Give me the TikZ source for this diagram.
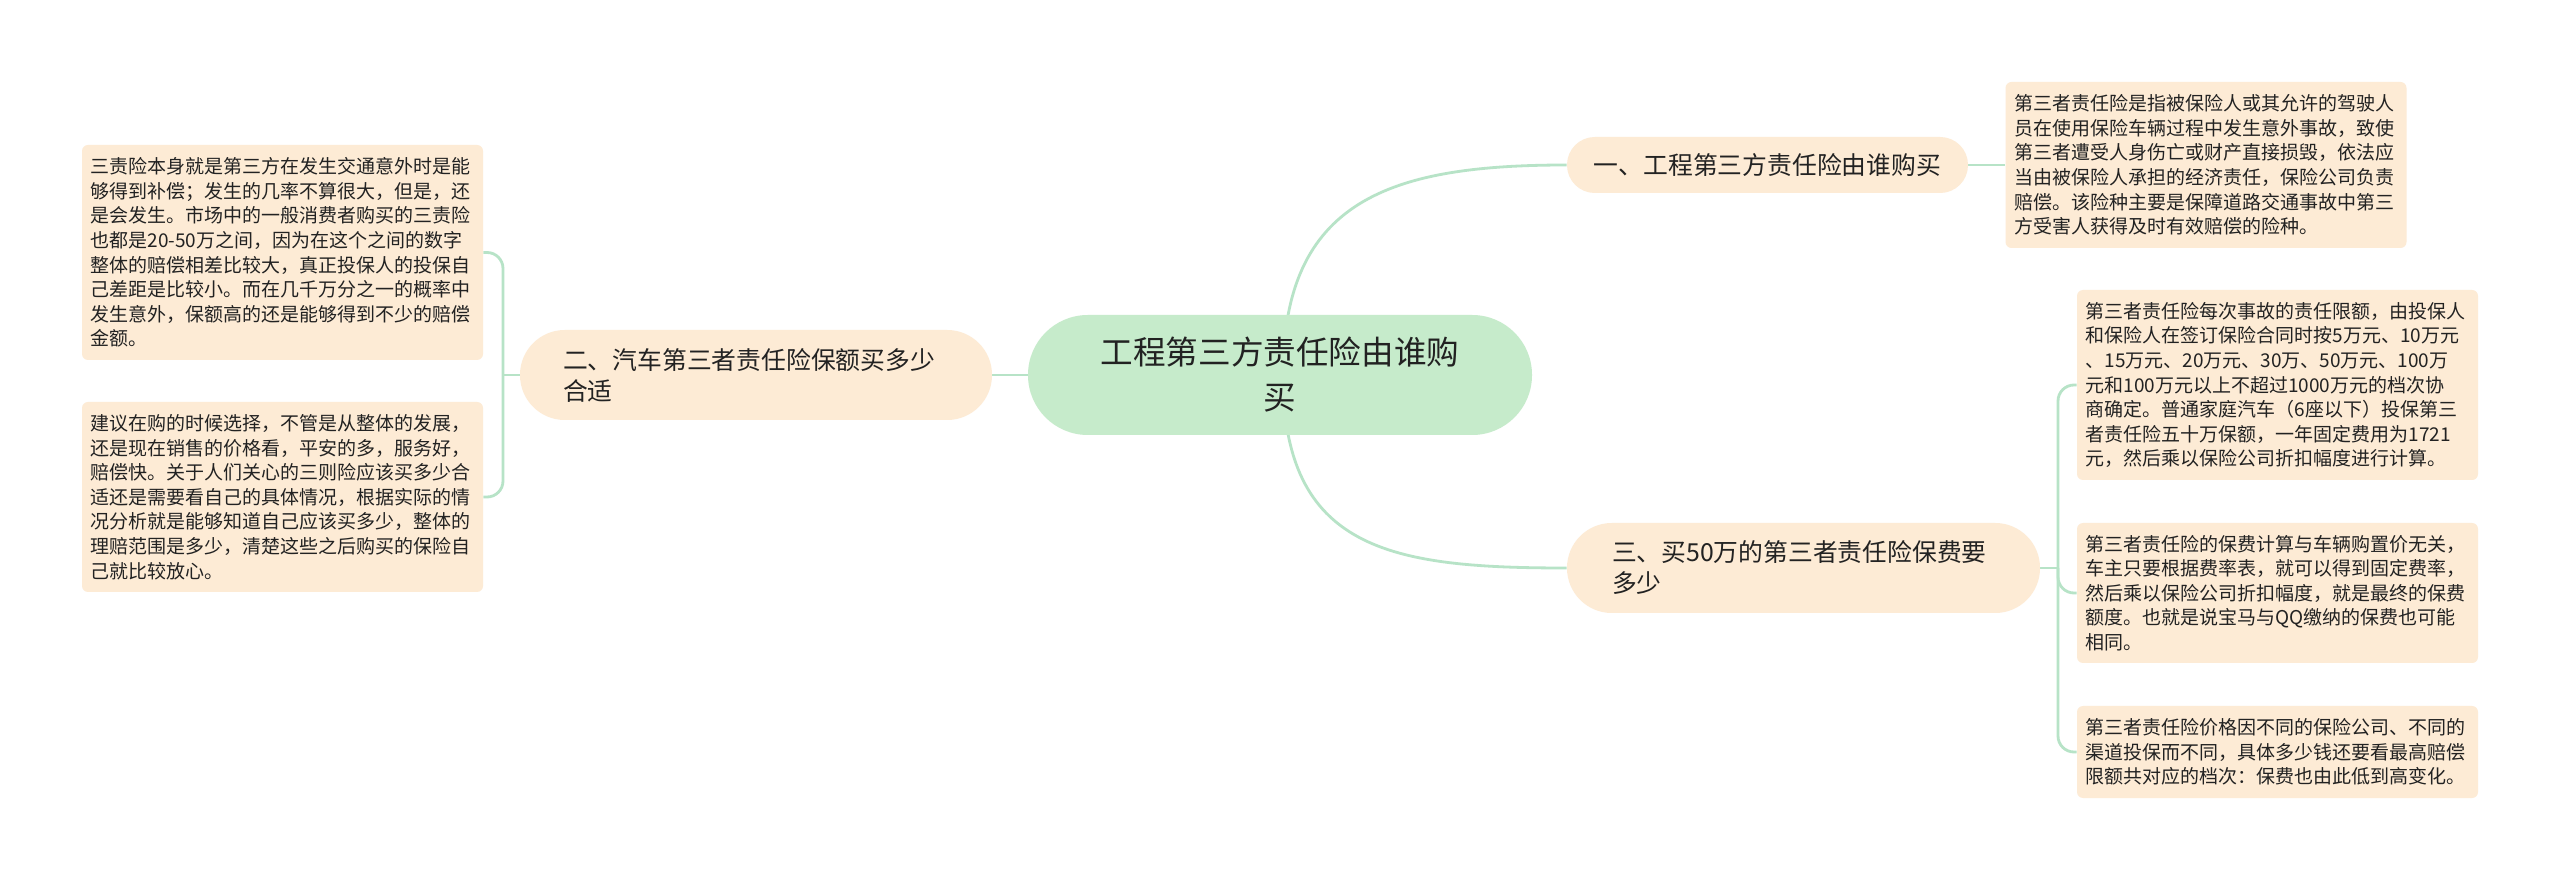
\documentclass[tikz,border=0pt]{standalone}
\usepackage{fontspec}
\setmainfont{Noto Sans CJK SC}
\usetikzlibrary{backgrounds}
\definecolor{linegreen}{RGB}{183,227,199}
\definecolor{centerfill}{RGB}{198,235,203}
\definecolor{peach}{RGB}{253,235,213}
\definecolor{txt}{RGB}{34,34,34}
\begin{document}
\begin{tikzpicture}[x=0.5pt,y=-0.5pt,
  leaf/.style={fill=peach, rounded corners=3pt, text=txt, align=left, text width=192pt,
    inner xsep=4.25pt, inner ysep=0pt, font=\fontsize{9.5}{12.3}\selectfont},
  branch/.style={fill=peach, text=txt, align=left, inner ysep=0pt,
    font=\fontsize{12.4}{15.5}\selectfont},
  link/.style={draw=linegreen, line width=1.4pt}]
\useasboundingbox (0,0) rectangle (2560,881);

% center
\node[fill=centerfill, rounded corners=29.9pt, minimum width=252pt, minimum height=60pt,
  align=center, text=txt, inner sep=0pt, font=\fontsize{16.3}{22.5}\selectfont]
  (c) at (1280,375) {工程第三方责任险由谁购\\买};

% branches
\node[branch, rounded corners=13.9pt, minimum width=200.5pt, minimum height=28pt, align=center]
  (b1) at (1767.5,165) {一、工程第三方责任险由谁购买};
\node[branch, rounded corners=22.4pt, text width=193pt, inner xsep=21.5pt, minimum height=45pt]
  (b2) at (756,375) {二、汽车第三者责任险保额买多少\\合适};
\node[branch, rounded corners=22.4pt, text width=191.5pt, inner xsep=22.5pt, minimum height=45pt]
  (b3) at (1803.5,568) {三、买50万的第三者责任险保费要\\多少};

% leaves
\node[leaf, minimum height=107.5pt] (l1) at (282.5,252.5) {三责险本身就是第三方在发生交通意外时是能\\够得到补偿；发生的几率不算很大，但是，还\\是会发生。市场中的一般消费者购买的三责险\\也都是20-50万之间，因为在这个之间的数字\\整体的赔偿相差比较大，真正投保人的投保自\\己差距是比较小。而在几千万分之一的概率中\\发生意外，保额高的还是能够得到不少的赔偿\\金额。};
\node[leaf, minimum height=95pt] (l2) at (282.5,497) {建议在购的时候选择，不管是从整体的发展，\\还是现在销售的价格看，平安的多，服务好，\\赔偿快。关于人们关心的三则险应该买多少合\\适还是需要看自己的具体情况，根据实际的情\\况分析就是能够知道自己应该买多少，整体的\\理赔范围是多少，清楚这些之后购买的保险自\\己就比较放心。};
\node[leaf, minimum height=83pt] (r1) at (2206,165) {第三者责任险是指被保险人或其允许的驾驶人\\员在使用保险车辆过程中发生意外事故，致使\\第三者遭受人身伤亡或财产直接损毁，依法应\\当由被保险人承担的经济责任，保险公司负责\\赔偿。该险种主要是保障道路交通事故中第三\\方受害人获得及时有效赔偿的险种。};
\node[leaf, minimum height=95pt] (r2) at (2277.5,385) {第三者责任险每次事故的责任限额，由投保人\\和保险人在签订保险合同时按5万元、10万元\\、15万元、20万元、30万、50万元、100万\\元和100万元以上不超过1000万元的档次协\\商确定。普通家庭汽车（6座以下）投保第三\\者责任险五十万保额，一年固定费用为1721\\元，然后乘以保险公司折扣幅度进行计算。};
\node[leaf, minimum height=70pt] (r3) at (2277.5,593) {第三者责任险的保费计算与车辆购置价无关，\\车主只要根据费率表，就可以得到固定费率，\\然后乘以保险公司折扣幅度，就是最终的保费\\额度。也就是说宝马与QQ缴纳的保费也可能\\相同。};
\node[leaf, minimum height=46pt] (r4) at (2277.5,752) {第三者责任险价格因不同的保险公司、不同的\\渠道投保而不同，具体多少钱还要看最高赔偿\\限额共对应的档次：保费也由此低到高变化。};

\coordinate (cs) at (1283,375);
\coordinate (jl) at (503,375);
\coordinate (jr) at (2058,568);

\begin{scope}[on background layer]
\fill[white] (0,0) rectangle (2560,881);
\draw[link] (cs) .. controls (1283,200) and (1390,165) .. (b1.west);
\draw[link] (cs) .. controls (1283,550) and (1390,568) .. (b3.west);
\draw[link] (b2.east) -- (c.west);
\draw[link] (b1.east) -- (r1.west);
\draw[link] (b2.west) -- (jl);
\draw[link, rounded corners=8pt] (l1.east) -| (jl) |- (l2.east);
\draw[link] (b3.east) -- (jr);
\draw[link, rounded corners=8pt] (r2.west) -| (jr) |- (r4.west);
\draw[link, rounded corners=8pt] (jr) |- (r3.west);
\end{scope}
\end{tikzpicture}
\end{document}
